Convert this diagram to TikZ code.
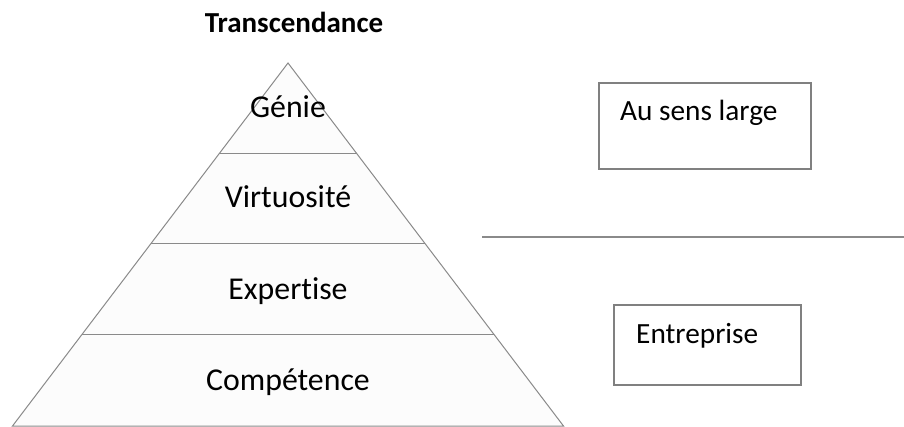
\documentclass[tikz,border=0pt]{standalone}
\usepackage{fontspec}
\setmainfont{Carlito}[Ligatures=CommonOff]
\usetikzlibrary{calc}
\definecolor{edgegray}{HTML}{8A8A8A}
\definecolor{boxgray}{HTML}{808080}
\definecolor{layerfill}{HTML}{FCFCFC}
\begin{document}
\begin{tikzpicture}[x=1pt,y=-1pt,
  lbl/.style={font=\fontsize{31.8}{38}\selectfont, inner sep=0pt, anchor=base},
  sidelbl/.style={font=\fontsize{29.3}{35}\selectfont, inner sep=0pt, anchor=base west},
  titlelbl/.style={font=\fontsize{29}{35}\selectfont\bfseries, inner sep=0pt, anchor=base},
  layer/.style={draw=edgegray, line width=1pt},
  sidebox/.style={draw=boxgray, line width=1.4pt}]
\useasboundingbox (0,0) rectangle (904,427);

% pyramid outline and layer boundaries
\coordinate (apex) at (288,63);
\coordinate (bl) at (12.5,426);
\coordinate (br) at (563.5,426);
\coordinate (l1) at ($(apex)!0.25!(bl)$);
\coordinate (r1) at ($(apex)!0.25!(br)$);
\coordinate (l2) at ($(apex)!0.4986!(bl)$);
\coordinate (r2) at ($(apex)!0.4986!(br)$);
\coordinate (l3) at ($(apex)!0.7493!(bl)$);
\coordinate (r3) at ($(apex)!0.7493!(br)$);
\fill[layerfill] (apex) -- (bl) -- (br) -- cycle;
\draw[layer, line join=miter] (apex) -- (bl) -- (br) -- cycle;
\draw[layer] (l1) -- (r1);
\draw[layer] (l2) -- (r2);
\draw[layer] (l3) -- (r3);

% level labels
\node[titlelbl] (top) at (294,33) {Transcendance};
\node[lbl] (genie) at (288,118) {Génie};
\node[lbl] (virt) at (288,208) {Virtuosité};
\node[lbl] (expert) at (288,300) {Expertise};
\node[lbl] (comp) at (288,390) {Compétence};

% scope boxes and divider
\draw[sidebox] (599,83) rectangle (811,169);
\node[sidelbl] (large) at (620,121) {Au sens large};
\coordinate (divL) at (482,237);
\coordinate (divR) at (904,237);
\draw[layer, line width=1.2pt] (divL) -- (divR);
\draw[sidebox] (614,305) rectangle (801,385);
\node[sidelbl] (entr) at (636,343) {Entreprise};
\end{tikzpicture}
\end{document}
